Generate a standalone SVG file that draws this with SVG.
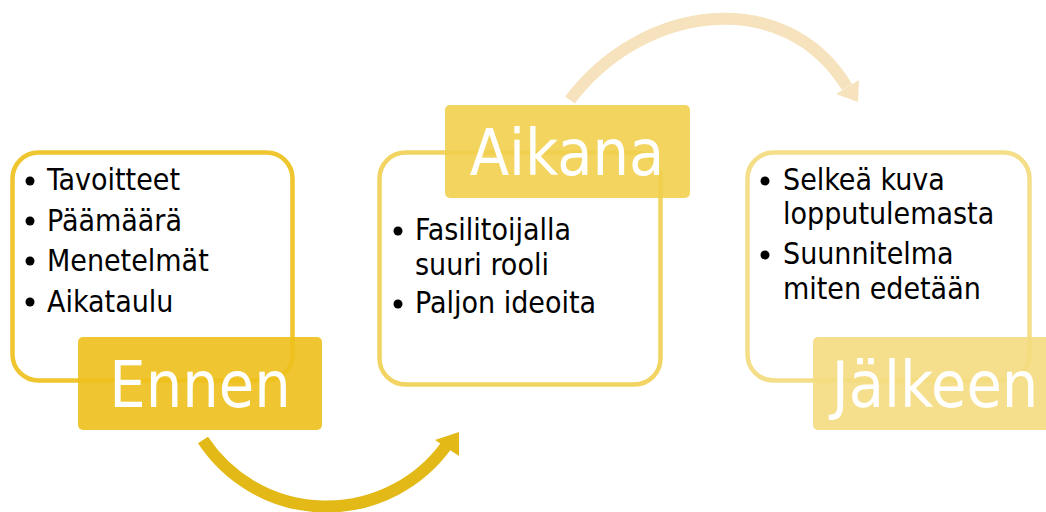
<svg xmlns="http://www.w3.org/2000/svg" width="1046" height="512" viewBox="0 0 1046 512">
  <style>
    .frame { fill: #ffffff; stroke-width: 4.5; }
    .item { font-family: "DejaVu Sans Condensed", "DejaVu Sans", sans-serif; font-stretch: condensed; font-size: 30px; fill: #000000; }
    .title { font-family: "DejaVu Sans Condensed", "DejaVu Sans", sans-serif; font-stretch: condensed; font-size: 64px; fill: #ffffff; text-anchor: middle; }
    .dot { fill: #000000; }
  </style>

  <!-- curved arrows between the phases -->
  <g id="connectors">
    <path d="M 203 440 A 148 148 0 0 0 446 446" fill="none" stroke="#E3B918" stroke-width="12"/>
    <polygon points="459,432 435,440 459,456" fill="#E3B918"/>
    <path d="M 570 100 C 642 4 785 -15 847 87" fill="none" stroke="#F6E3BE" stroke-width="12"/>
    <polygon points="836,94 858,102 859,80" fill="#F6E3BE"/>
  </g>

  <!-- phase 1 -->
  <g id="ennen">
    <rect class="frame" x="12.5" y="152.5" width="280" height="228" rx="26" stroke="#EFC630"/>
    <circle class="dot" cx="30" cy="181" r="4.5"/>
    <circle class="dot" cx="30" cy="221" r="4.5"/>
    <circle class="dot" cx="30" cy="261" r="4.5"/>
    <circle class="dot" cx="30" cy="302" r="4.5"/>
    <text class="item" x="47" y="190">Tavoitteet</text>
    <text class="item" x="47" y="231">Päämäärä</text>
    <text class="item" x="47" y="271">Menetelmät</text>
    <text class="item" x="47" y="312">Aikataulu</text>
    <rect x="78" y="337" width="244" height="93" rx="5" fill="#EDC01C" fill-opacity="0.9"/>
    <text class="title" x="200" y="407">Ennen</text>
  </g>

  <!-- phase 2 -->
  <g id="aikana">
    <rect class="frame" x="379.5" y="152.5" width="281" height="232" rx="26" stroke="#F2D462"/>
    <circle class="dot" cx="398" cy="231" r="4.5"/>
    <circle class="dot" cx="398" cy="304" r="4.5"/>
    <text class="item" x="415" y="240">Fasilitoijalla</text>
    <text class="item" x="415" y="275">suuri rooli</text>
    <text class="item" x="415" y="313">Paljon ideoita</text>
    <rect x="445" y="105" width="245" height="93" rx="5" fill="#F1CF4E" fill-opacity="0.9"/>
    <text class="title" x="567" y="175">Aikana</text>
  </g>

  <!-- phase 3 -->
  <g id="jalkeen">
    <rect class="frame" x="747.5" y="152.5" width="282" height="228" rx="26" stroke="#F5DE88"/>
    <circle class="dot" cx="765" cy="181" r="4.5"/>
    <circle class="dot" cx="765" cy="255" r="4.5"/>
    <text class="item" x="783" y="190">Selkeä kuva</text>
    <text class="item" x="783" y="224">lopputulemasta</text>
    <text class="item" x="783" y="264">Suunnitelma</text>
    <text class="item" x="783" y="299">miten edetään</text>
    <rect x="813" y="337" width="244" height="93" rx="5" fill="#F4DC80" fill-opacity="0.9"/>
    <text class="title" x="935" y="407">Jälkeen</text>
  </g>
</svg>
